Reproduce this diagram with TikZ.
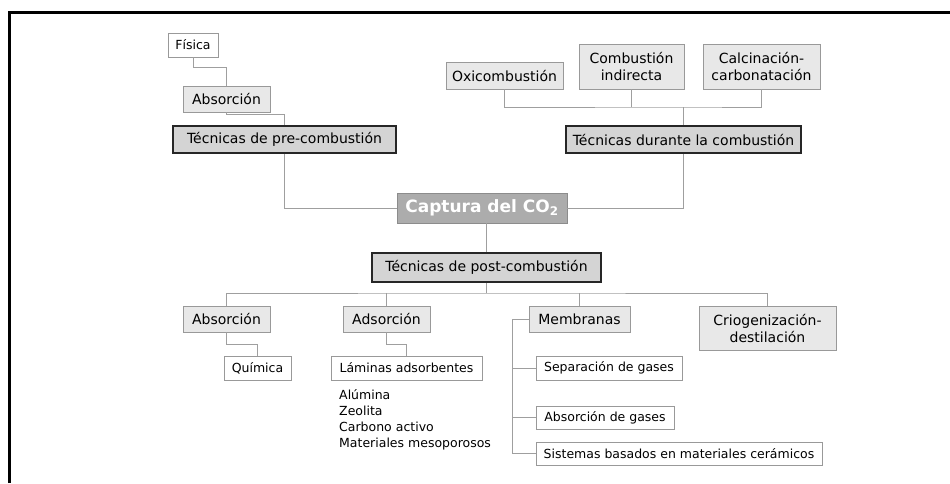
\documentclass[tikz,border=0pt]{standalone}
\usepackage{fontspec}
\setmainfont{DejaVu Sans}
\usetikzlibrary{positioning, calc}

\begin{document}
\begin{tikzpicture}[x=1pt, y=-1pt, font=\fontsize{14}{17}\selectfont,
    boxline/.style={draw=gray!80, line width=0.9pt, inner sep=0pt, align=center},
    techbox/.style={boxline, fill=gray!34, draw=black!85, line width=1.6pt},
    subbox/.style={boxline, fill=gray!18},
    leafbox/.style={boxline, fill=white, font=\fontsize{12.5}{15}\selectfont},
    link/.style={draw=gray!75, line width=1pt}]

    \useasboundingbox (0,0) rectangle (950,483);
    \draw[line width=3pt] (9,483) -- (9,12) -- (950,12);

    % centro
    \node[boxline, fill=gray!65, draw=gray!90, text=white, minimum width=170pt, minimum height=30pt,
        font=\fontsize{17}{20}\selectfont\bfseries] (captura) at (482,208) {Captura del CO\textsubscript{2}};

    % pre-combustion
    \node[techbox, minimum width=223pt, minimum height=27pt] (pre) at (284.5,139.5) {Técnicas de pre-combustión};
    \node[subbox, minimum width=87pt, minimum height=26pt] (absPre) at (226.5,99) {Absorción};
    \node[leafbox, minimum width=50pt, minimum height=24pt] (fisica) at (193,45) {Física};

    % durante la combustion
    \node[techbox, minimum width=235pt, minimum height=27pt] (durante) at (683.5,139.5) {Técnicas durante la combustión};
    \node[subbox, minimum width=117pt, minimum height=27pt] (oxi) at (504.5,75.5) {Oxicombustión};
    \node[subbox, minimum width=105pt, minimum height=45pt] (indirecta) at (631.5,66.5) {Combustión\\indirecta};
    \node[subbox, minimum width=117pt, minimum height=45pt] (calcin) at (761.5,66.5) {Calcinación-\\carbonatación};
    \coordinate (busTop) at (683.5,107);

    % post-combustion
    \node[techbox, minimum width=229pt, minimum height=29pt] (post) at (486.5,267.5) {Técnicas de post-combustión};
    \coordinate (busBot) at (486.5,293);
    \node[subbox, minimum width=87pt, minimum height=26pt] (absPost) at (226.5,319) {Absorción};
    \node[subbox, minimum width=87pt, minimum height=26pt] (adsor) at (386.5,319) {Adsorción};
    \node[subbox, minimum width=101pt, minimum height=26pt] (membr) at (579.5,319) {Membranas};
    \node[subbox, minimum width=137pt, minimum height=44pt] (crio) at (767.5,328) {Criogenización-\\destilación};

    \node[leafbox, minimum width=67pt, minimum height=24pt] (quimica) at (257.5,368) {Química};
    \node[leafbox, minimum width=151pt, minimum height=24pt] (laminas) at (406.5,368) {Láminas adsorbentes};
    \node[anchor=north west, align=left, inner sep=0pt, font=\fontsize{12.5}{16}\selectfont]
        (materiales) at (339,389) {Alúmina\\Zeolita\\Carbono activo\\Materiales mesoporosos};

    \coordinate (memBus) at (512,319);
    \node[leafbox, minimum width=146pt, minimum height=24pt] (separ) at (609,368) {Separación de gases};
    \node[leafbox, minimum width=138pt, minimum height=23pt] (absGas) at (605,417.5) {Absorción de gases};
    \node[leafbox, minimum width=286pt, minimum height=23pt] (sistemas) at (679,453.5) {Sistemas basados en materiales cerámicos};

    % conexiones
    \draw[link] (fisica.south) -- ++(0,10) -| (absPre.north);
    \draw[link] (absPre.south) -- ++(0,2) -| (pre.north);
    \draw[link] (pre.south) |- (captura.west);

    \draw[link] (oxi.south) |- (busTop) -| (calcin.south);
    \draw[link] (indirecta.south) -- (indirecta.south |- busTop);
    \draw[link] (busTop) -- (durante.north);
    \draw[link] (durante.south) |- (captura.east);

    \draw[link] (post.north) -- (post.north |- captura.south);
    \draw[link] (post.south) -- (busBot);
    \draw[link] (absPost.north) |- (busBot) -| (crio.north);
    \draw[link] (adsor.north) -- (adsor.north |- busBot);
    \draw[link] (membr.north) -- (membr.north |- busBot);

    \draw[link] (absPost.south) -- ++(0,12) -| (quimica.north);
    \draw[link] (adsor.south) -- ++(0,12) -| (laminas.north);

    \draw[link] (membr.west) -- (memBus) |- (sistemas.west);
    \draw[link] (separ.west) -- (separ.west -| memBus);
    \draw[link] (absGas.west) -- (absGas.west -| memBus);

\end{tikzpicture}
\end{document}
